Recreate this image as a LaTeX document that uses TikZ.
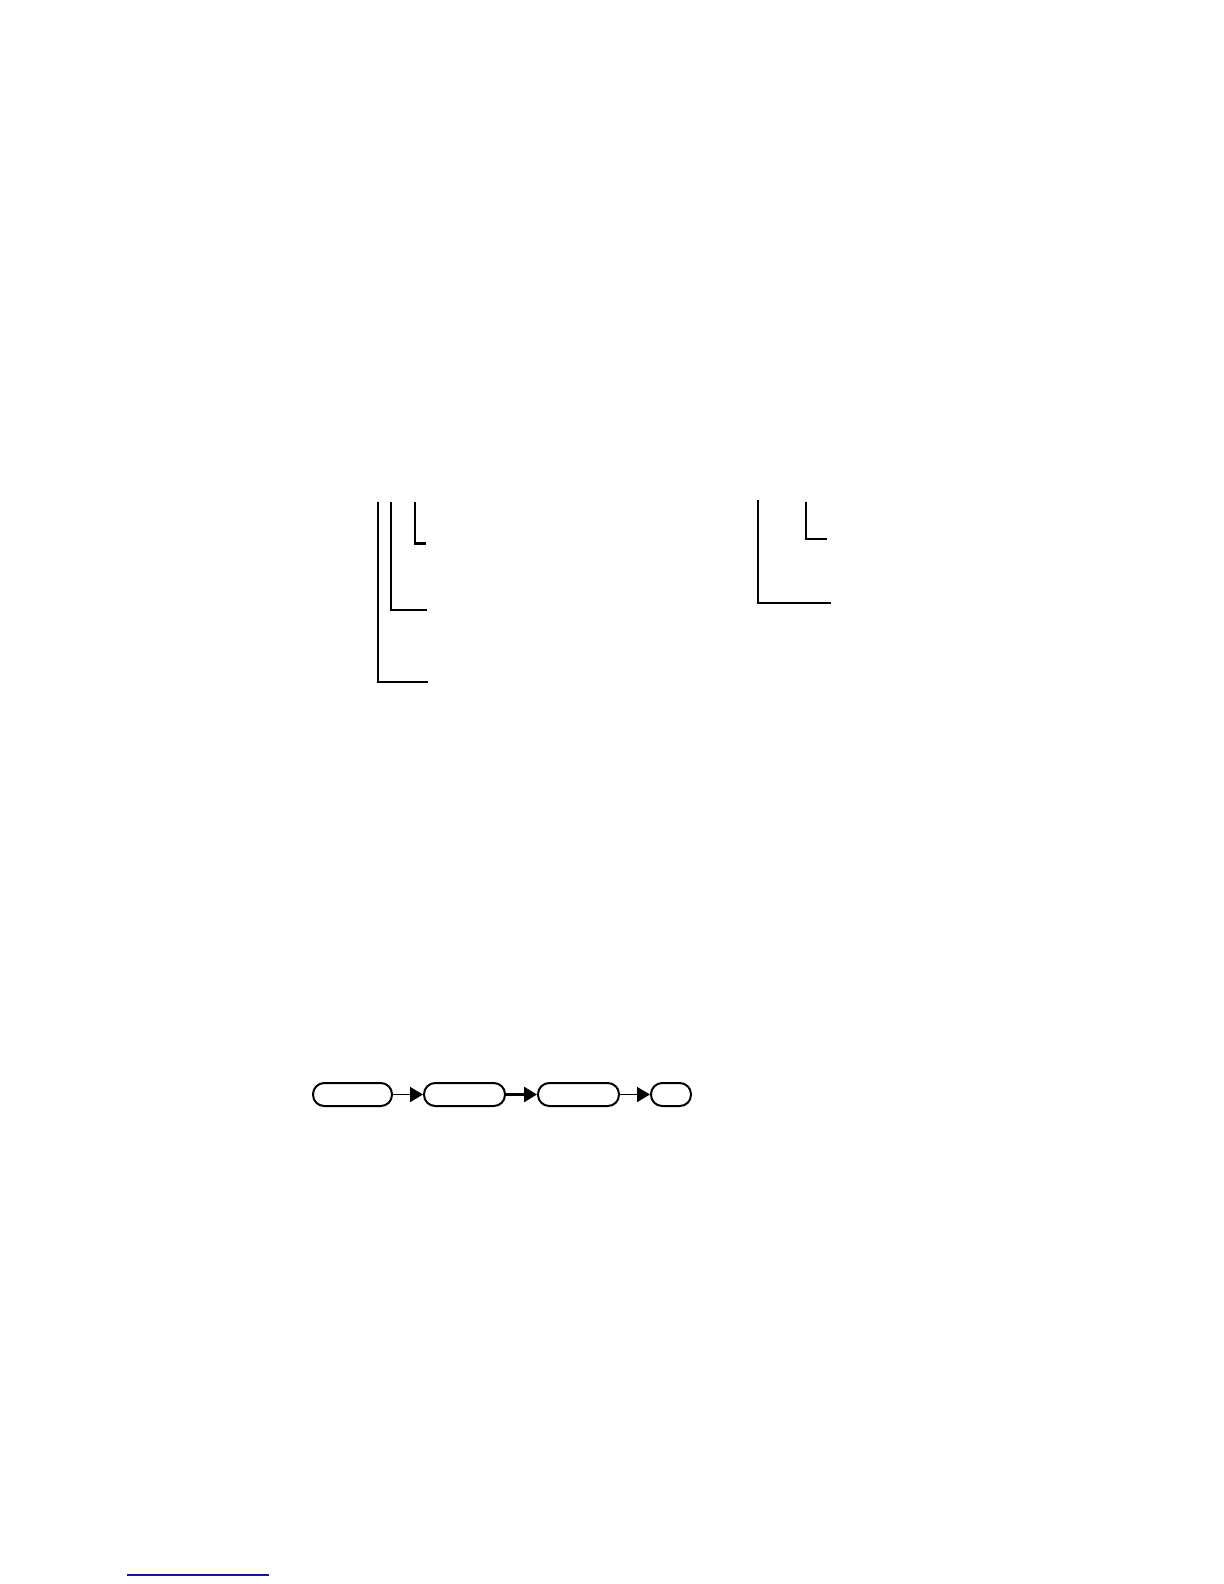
\documentclass[tikz,border=0pt]{standalone}
\usetikzlibrary{arrows.meta}
\definecolor{rulblue}{RGB}{20,20,160}
\begin{document}
\begin{tikzpicture}[x=0.5pt,y=-0.5pt,
  bline/.style={line width=1pt,black},
  pill/.style={draw,line width=1pt,rounded corners=5.6pt,minimum height=11.5pt,inner sep=0pt},
  flow/.style={line width=0.9pt,-{Triangle[length=6.5pt,width=7.5pt]}}]
\useasboundingbox (0,0) rectangle (1224,1584);
% left bracket group
\draw[bline] (378,502) -- (378,682) -- (428,682);
\draw[bline] (391,502) -- (391,610) -- (427,610);
\draw[bline] (415,502) -- (415,543);
\draw[line width=1.5pt] (414,543) -- (426,543);
% right bracket group
\draw[bline] (758,500) -- (758,603) -- (831,603);
\draw[bline] (806,502) -- (806,539) -- (827,539);
% flow chain
\node[pill,minimum width=39.5pt] (b1) at (352.5,1094.5) {};
\node[pill,minimum width=40.5pt] (b2) at (464.5,1094.5) {};
\node[pill,minimum width=40.5pt] (b3) at (578.5,1094.5) {};
\node[pill,minimum width=20pt] (b4) at (671,1094.5) {};
\draw[flow] (b1) -- (b2);
\draw[flow,line width=1.4pt] (b2) -- (b3);
\draw[flow] (b3) -- (b4);
% footnote rule
\coordinate (r1) at (127,1575);
\coordinate (r2) at (269,1575);
\draw[rulblue,line width=0.8pt] (r1) -- (r2);
\end{tikzpicture}
\end{document}
